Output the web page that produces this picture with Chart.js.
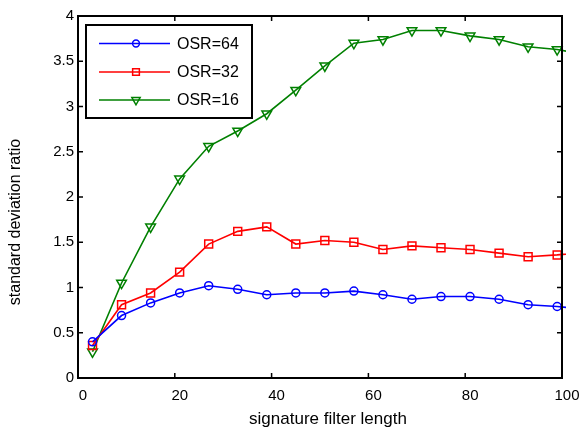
<!DOCTYPE html>
<html><head><meta charset="utf-8">
<script src="https://cdn.jsdelivr.net/npm/chart.js@4/dist/chart.umd.min.js"></script>
<style>html,body{margin:0;padding:0;background:#fff;}#wrap{width:584px;height:431px;}</style>
</head><body><div id="wrap"><canvas id="c" width="584" height="431"></canvas></div>
<script>
const filterLengths = [3, 9, 15, 21, 27, 33, 39, 45, 51, 57, 63, 69, 75, 81, 87, 93, 99, 105];
const osr64 = [0.40, 0.69, 0.83, 0.94, 1.02, 0.98, 0.92, 0.94, 0.94, 0.96, 0.92, 0.87, 0.90, 0.90, 0.87, 0.81, 0.79, 0.76];
const osr32 = [0.36, 0.81, 0.94, 1.17, 1.48, 1.62, 1.67, 1.48, 1.52, 1.50, 1.42, 1.46, 1.44, 1.42, 1.38, 1.34, 1.36, 1.39];
const osr16 = [0.29, 1.05, 1.67, 2.20, 2.56, 2.73, 2.92, 3.18, 3.45, 3.70, 3.74, 3.84, 3.84, 3.78, 3.74, 3.66, 3.63, 3.57];
const seriesLabels = ['OSR=64', 'OSR=32', 'OSR=16'];
const xTickValues = [0, 20, 40, 60, 80, 100];
const yTickValues = [0, 0.5, 1, 1.5, 2, 2.5, 3, 3.5, 4];
const xTitle = 'signature filter length';
const yTitle = 'standard deviation ratio';

const FONT = "'Liberation Sans', Arial, Helvetica, sans-serif";
const colors = ['#0000ff', '#ff0000', '#008000'];
const styles = ['circle', 'rect', 'triangle'];
const radii = [4, 5.6, 5.6];
const rotations = [0, 0, 180];
const seriesValues = [osr64, osr32, osr16];

const datasets = seriesValues.map((vals, i) => ({
  label: seriesLabels[i],
  data: filterLengths.map((x, j) => ({x: x, y: vals[j]})),
  borderColor: colors[i],
  backgroundColor: 'transparent',
  borderWidth: 1.6,
  pointStyle: styles[i],
  pointRadius: radii[i],
  pointRotation: rotations[i],
  pointBorderColor: colors[i],
  pointBackgroundColor: 'transparent',
  pointBorderWidth: 1.5,
  tension: 0,
  clip: {left: 2, top: 2, right: 4, bottom: 2}
}));

const boxPlugin = {
  id: 'boxPlugin',
  afterDatasetsDraw(chart) {
    const ctx = chart.ctx;
    const a = chart.chartArea;
    const xs = chart.scales.x, ys = chart.scales.y;
    ctx.save();
    ctx.strokeStyle = '#000';
    ctx.lineWidth = 1.5;
    const tl = 5;
    ctx.beginPath();
    xTickValues.forEach(v => {
      const px = xs.getPixelForValue(v);
      ctx.moveTo(px, a.bottom); ctx.lineTo(px, a.bottom - tl);
      ctx.moveTo(px, a.top); ctx.lineTo(px, a.top + tl);
    });
    yTickValues.forEach(v => {
      const py = ys.getPixelForValue(v);
      ctx.moveTo(a.left, py); ctx.lineTo(a.left + tl, py);
      ctx.moveTo(a.right, py); ctx.lineTo(a.right - tl, py);
    });
    ctx.stroke();
    ctx.lineWidth = 2;
    ctx.strokeRect(a.left, a.top, a.right - a.left, a.bottom - a.top);
    ctx.restore();
  },
  afterDraw(chart) {
    const ctx = chart.ctx;
    const a = chart.chartArea;
    // axis titles
    ctx.save();
    ctx.fillStyle = '#000';
    ctx.textAlign = 'center';
    ctx.textBaseline = 'middle';
    ctx.font = '17px ' + FONT;
    ctx.fillText(xTitle, (a.left + a.right) / 2 + 8, 419);
    ctx.translate(16, (a.top + a.bottom) / 2 + 25);
    ctx.rotate(-Math.PI / 2);
    ctx.font = '16px ' + FONT;
    ctx.fillText(yTitle, 0, 0);
    ctx.restore();
    // legend
    const bx = a.left + 8, by = a.top + 9, bw = 166, bh = 93;
    ctx.save();
    ctx.fillStyle = '#fff';
    ctx.fillRect(bx, by, bw, bh);
    ctx.strokeStyle = '#000';
    ctx.lineWidth = 2;
    ctx.strokeRect(bx, by, bw, bh);
    const rowY = [by + 18.5, by + 47, by + 75];
    chart.data.datasets.forEach((ds, i) => {
      const y = rowY[i];
      ctx.strokeStyle = ds.borderColor;
      ctx.lineWidth = ds.borderWidth;
      ctx.beginPath();
      ctx.moveTo(bx + 13, y); ctx.lineTo(bx + 84, y);
      ctx.stroke();
      ctx.fillStyle = 'transparent';
      ctx.lineWidth = ds.pointBorderWidth;
      Chart.helpers.drawPoint(ctx, {pointStyle: ds.pointStyle, rotation: ds.pointRotation, radius: ds.pointRadius * 0.85, borderWidth: ds.pointBorderWidth}, bx + 50, y);
      ctx.fillStyle = '#000';
      ctx.font = '16px ' + FONT;
      ctx.textAlign = 'left';
      ctx.textBaseline = 'middle';
      ctx.fillText(ds.label, bx + 91, y + 1);
    });
    ctx.restore();
  }
};

new Chart(document.getElementById('c'), {
  type: 'line',
  data: {datasets: datasets},
  options: {
    responsive: false,
    animation: false,
    layout: {padding: {left: 0, right: 22, top: 16, bottom: 0}},
    plugins: {legend: {display: false}, tooltip: {enabled: false}},
    scales: {
      x: {
        type: 'linear', min: 0, max: 100,
        afterBuildTicks: s => { s.ticks = xTickValues.map(v => ({value: v})); },
        afterFit: s => { s.height = 53; },
        grid: {display: false, drawTicks: false},
        border: {display: false},
        ticks: {color: '#000', font: {family: FONT, size: 15}, padding: 9, maxRotation: 0, labelOffset: 5,
                callback: v => String(v)},
        title: {display: false}
      },
      y: {
        type: 'linear', min: 0, max: 4,
        afterBuildTicks: s => { s.ticks = yTickValues.map(v => ({value: v})); },
        afterFit: s => { s.width = 78; },
        grid: {display: false, drawTicks: false},
        border: {display: false},
        ticks: {color: '#000', font: {family: FONT, size: 15}, padding: 4, callback: v => String(v)},
        title: {display: false}
      }
    }
  },
  plugins: [boxPlugin]
});
</script></body></html>
